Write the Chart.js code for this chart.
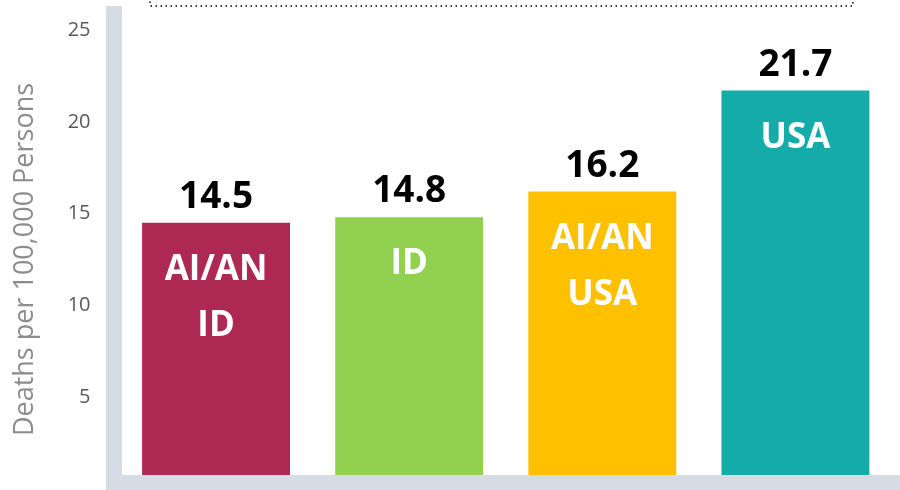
<!DOCTYPE html>
<html>
<head>
<meta charset="utf-8">
<script src="https://cdn.jsdelivr.net/npm/chart.js@4/dist/chart.umd.min.js"></script>
<style>
  html, body { margin: 0; padding: 0; background: #fff; }
  canvas { display: block; }
</style>
</head>
<body>
<canvas id="deathsChart" width="900" height="490"></canvas>
<script>
// Data
const categories = ['AI/AN ID', 'ID', 'AI/AN USA', 'USA'];
const barLines = [['AI/AN', 'ID'], ['ID'], ['AI/AN', 'USA'], ['USA']];
const deathRates = [14.5, 14.8, 16.2, 21.7];
const barColors = ['#ad2954', '#92d050', '#ffc000', '#14aba9'];
const yTicks = [5, 10, 15, 20, 25];

const FONT = '"Open Sans", "Liberation Sans", sans-serif';
const BAND = '#d6dce5';

// grey frame bands + dotted box edge at top
const framePlugin = {
  id: 'frame',
  afterDatasetsDraw(chart) {
    const ctx = chart.ctx;
    ctx.save();
    ctx.fillStyle = BAND;
    ctx.fillRect(106, 6, 16, 484);
    ctx.fillRect(106, 475, 794, 15);

    ctx.strokeStyle = '#000';
    ctx.lineWidth = 1.5;
    ctx.setLineDash([1.5, 3.5]);
    ctx.strokeRect(150, -50, 703, 56);
    ctx.restore();
  }
};

// value labels above bars, names inside bars
const labelPlugin = {
  id: 'barLabels',
  afterDatasetsDraw(chart) {
    const ctx = chart.ctx;
    const meta = chart.getDatasetMeta(0);
    ctx.save();
    ctx.textAlign = 'center';
    ctx.textBaseline = 'alphabetic';
    meta.data.forEach((bar, i) => {
      ctx.fillStyle = '#000';
      ctx.font = `bold 37px ${FONT}`;
      ctx.fillText(deathRates[i].toFixed(1), bar.x, bar.y - 15);

      ctx.fillStyle = '#fff';
      ctx.font = `bold 35px ${FONT}`;
      barLines[i].forEach((line, j) => {
        ctx.fillText(line, bar.x, bar.y + 57 + j * 56);
      });
    });
    ctx.restore();
  }
};

new Chart(document.getElementById('deathsChart'), {
  type: 'bar',
  data: {
    labels: categories,
    datasets: [{
      data: deathRates,
      backgroundColor: barColors,
      borderWidth: 0,
      barPercentage: 0.766,
      categoryPercentage: 1
    }]
  },
  options: {
    responsive: false,
    animation: false,
    layout: { padding: { top: 30, bottom: 1, left: 0, right: 8 } },
    plugins: { legend: { display: false }, tooltip: { enabled: false } },
    scales: {
      x: { display: false },
      y: {
        min: 0,
        max: 25,
        afterFit(scale) {
          scale.width = 119.5;
          scale.paddingTop = 0;
          scale.paddingBottom = 0;
        },
        afterBuildTicks(scale) { scale.ticks = yTicks.map(v => ({ value: v })); },
        grid: { display: false, drawTicks: false },
        border: { display: false },
        ticks: {
          padding: 29,
          color: '#595959',
          font: { family: FONT, size: 20 }
        },
        title: {
          display: true,
          text: 'Deaths per 100,000 Persons',
          color: '#8c8c8c',
          padding: { top: 9, bottom: 0 },
          font: { family: FONT, size: 27 }
        }
      }
    }
  },
  plugins: [framePlugin, labelPlugin]
});
</script>
</body>
</html>
